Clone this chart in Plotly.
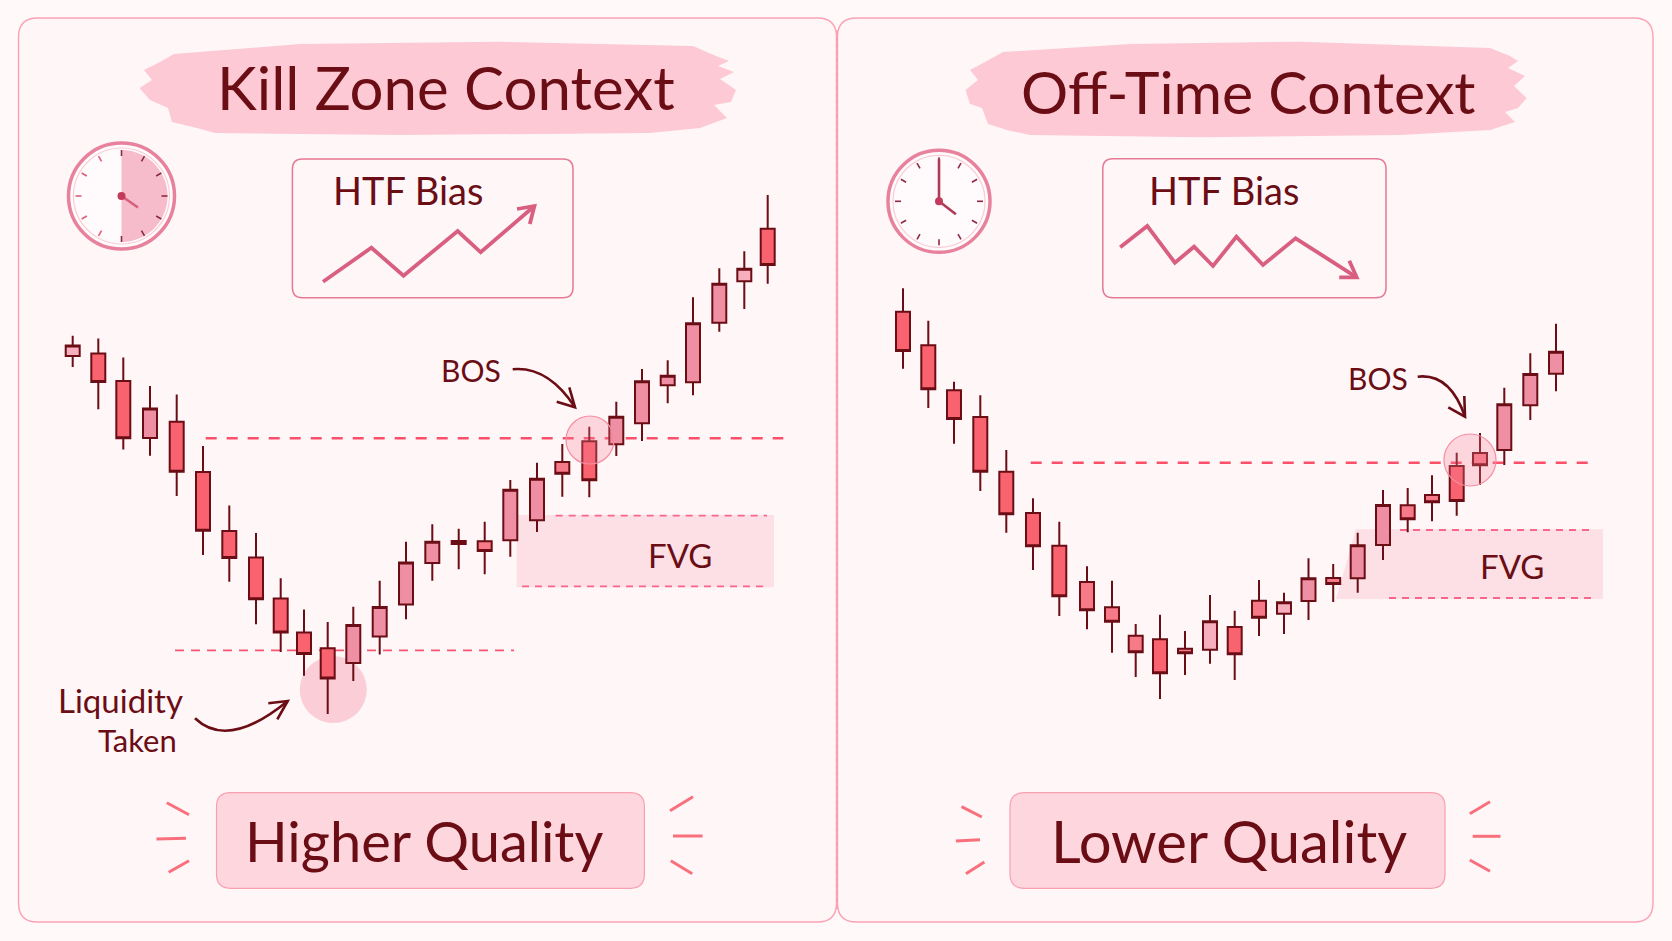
import numpy as np
import plotly.graph_objects as go

W, H = 1672, 941
INK = "#6b0d14"
RED, ROSE, PINK, PALE = "#f9626f", "#f77a88", "#ee8fa3", "#f7aebd"
TONES = {"r": RED, "o": ROSE, "p": PINK, "l": PALE}

# ---------- left panel candles ----------
L_time = [72.7, 98.3, 123.3, 150, 176.7, 203, 229.3, 256, 280.7, 304, 327.7, 353.3, 379.7, 406,
          432.3, 458.7, 484.7, 510.3, 537, 562.3, 589.3, 616.3, 642, 667.7, 693, 719.3, 744.3, 767.7]
L_high = [605.3, 602.4, 583.5, 554.9, 546.4, 494.9, 435.6, 408.1, 362.8, 331.4, 318.9, 334.2, 360.3, 399.2,
          416.7, 412.3, 419.3, 461, 478.3, 497, 514.3, 539.3, 572, 580.7, 643.7, 672.7, 689.7, 746]
L_top = [595.6, 587.4, 559.9, 532.4, 519.2, 468.9, 409.9, 383.5, 342.4, 308.5, 292.8, 316, 333.9, 378.5,
         399.2, 400, 399.7, 451.3, 462.3, 479, 499.7, 524.3, 559.7, 565.3, 617.7, 657.3, 672.3, 712.3]
L_bot = [584.9, 558.9, 502.8, 503.1, 469.2, 410.3, 383.1, 341.7, 308.5, 287.1, 262.4, 278.1, 304.6, 336.4,
         378.1, 397, 390, 400.7, 420.7, 467.3, 460.7, 496.7, 517.7, 555.7, 558.7, 618.3, 659.7, 676]
L_low = [573.9, 531.7, 491.4, 485.3, 444.9, 386, 359.2, 316.7, 288.9, 265.3, 227.1, 259.9, 286.4, 321.7,
         360.3, 371.7, 366.7, 384.3, 409, 444.3, 443.7, 485, 500, 537.7, 545.7, 609.3, 632, 657.3]
L_tone = ["l", "r", "r", "p", "r", "r", "r", "r", "r", "r", "r", "p", "p", "p",
          "p", "r", "o", "p", "p", "o", "r", "p", "p", "p", "p", "p", "l", "r"]

# ---------- right panel candles ----------
R_time = [903, 928.3, 954, 980.3, 1006.3, 1033, 1059.3, 1087, 1112, 1135.7, 1160, 1185, 1210, 1234.7,
          1259, 1284, 1308.5, 1333.2, 1357.7, 1383, 1407.7, 1432, 1456.7, 1480, 1504.3, 1530.3, 1556]
R_high = [652.7, 620.3, 559.3, 545.7, 491, 442.7, 419.3, 374.7, 360.3, 317, 326.3, 310, 346, 330.3,
          361, 348.3, 382.7, 377, 408.3, 451, 453, 465.7, 488.3, 508, 553.3, 587.7, 617.3]
R_top = [629.3, 595.7, 550.7, 524, 469.3, 428, 395.3, 359, 333.7, 305.3, 301.7, 292.3, 319.7, 314,
         340.3, 338.7, 362.7, 363, 395.7, 436, 435.7, 446, 475, 488, 536.7, 567, 589.3]
R_bot = [590, 551.7, 522, 469.3, 426.7, 394.7, 344.7, 330.7, 319.3, 288.7, 267.7, 287.7, 291.3, 286.7,
         323.3, 327.3, 340, 357, 362.7, 396, 421.7, 438.7, 440, 475.7, 491, 535.7, 567.3]
R_low = [572.3, 533, 497.3, 450, 408.3, 371, 325, 311.7, 288.3, 264, 242, 266, 277.3, 261,
         305, 307, 321, 339, 348.3, 381, 408.7, 419.7, 425.3, 456, 476, 521, 549.7]
R_tone = ["r", "r", "r", "r", "r", "r", "r", "o", "o", "o", "r", "o", "l", "r",
          "o", "l", "p", "o", "p", "p", "o", "o", "r", "o", "p", "p", "p"]

# ---------- labels ----------
TITLES = ["Kill Zone Context", "Off-Time Context"]
BIAS = "HTF Bias"
BOS = "BOS"
FVG = "FVG"
LIQ = ["Liquidity", "Taken"]
VERDICTS = ["Higher Quality", "Lower Quality"]

# ---------- hand-drawn bias lines and the drawing's furniture ----------
BIAS_UP_X = [323, 371.4, 403.5, 457.7, 480.7, 534.4]
BIAS_UP_Y = [281.7, 247.7, 275.7, 231, 252.3, 206]
BIAS_DN_X = [1120.2, 1147.3, 1174.9, 1194.1, 1213, 1236.4, 1263, 1295.6, 1356.7]
BIAS_DN_Y = [247.3, 226, 262.7, 246.7, 266, 236.7, 265, 238.3, 277.3]
BRUSH_L = [(174, 54), (300, 44), (500, 41.7), (693, 46), (716, 56), (729, 61), (718, 66), (734, 72), (720, 79),
           (736, 90), (731, 102), (714, 105), (727, 118), (700, 128), (650, 133), (400, 135), (215, 133),
           (197, 128), (172, 122), (168, 108), (150, 100), (139.5, 88), (152, 80), (144, 70), (160, 62)]
BRUSH_R = [(1003, 52), (1130, 44), (1300, 41.7), (1490, 48), (1510, 56), (1518, 61), (1508, 68), (1525, 76),
           (1514, 86), (1526.6, 98), (1518, 108), (1505, 112), (1515, 122), (1490, 130), (1400, 135),
           (1200, 137.3), (1030, 135), (1007, 130), (988, 124), (982, 108), (970, 104), (965.5, 90), (978, 80),
           (970, 70), (985, 62)]
RAYS = [((166.8, 802.7), (189, 814.7)), ((156.5, 839), (186, 838.3)), ((168.7, 872.3), (189, 860.7)),
        ((670, 810.7), (693, 796.7)), ((673, 836), (702.6, 836)), ((670.8, 860.7), (692.2, 873.7)),
        ((961.5, 806.7), (981.8, 817)), ((955.9, 841), (980, 839.7)), ((965.9, 873.7), (984.4, 862)),
        ((1469.8, 813.7), (1490, 801.7)), ((1472.7, 836.3), (1500.5, 836.3)), ((1469.8, 860), (1490, 871.3))]


def fy(v):
    return H - v


def poly(pts, close=True):
    s = "M" + " L".join(f"{x:.1f},{fy(y):.1f}" for x, y in pts)
    return s + (" Z" if close else "")


def rrect(x0, y0, x1, y1, r):
    y0f, y1f = fy(y0), fy(y1)
    return (f"M{x0+r},{y0f} L{x1-r},{y0f} Q{x1},{y0f} {x1},{y0f-r} L{x1},{y1f+r} Q{x1},{y1f} {x1-r},{y1f} "
            f"L{x0+r},{y1f} Q{x0},{y1f} {x0},{y1f+r} L{x0},{y0f-r} Q{x0},{y0f} {x0+r},{y0f} Z")


shapes = []


def add(path=None, fill=None, color=None, width=0, dash=None, layer="below"):
    shapes.append(dict(type="path", path=path, xref="x", yref="y", fillcolor=fill or "rgba(0,0,0,0)",
                       line=dict(color=color or "rgba(0,0,0,0)", width=width, dash=dash or "solid"), layer=layer))


def seg(x0, y0, x1, y1, color, width, dash="solid", layer="below"):
    shapes.append(dict(type="line", x0=x0, x1=x1, y0=fy(y0), y1=fy(y1), xref="x", yref="y",
                       line=dict(color=color, width=width, dash=dash), layer=layer))


def circle(cx, cy, r, fill, color=None, width=0, layer="below"):
    shapes.append(dict(type="circle", x0=cx - r, x1=cx + r, y0=fy(cy) - r, y1=fy(cy) + r, xref="x", yref="y",
                       fillcolor=fill, line=dict(color=color or "rgba(0,0,0,0)", width=width), layer=layer))


# panels
add(rrect(18.5, 18, 836.5, 922, 19), "#fff6f8", "#fba3b3", 1.4)
add(rrect(837.5, 18, 1653, 922, 19), "#fff6f8", "#fba3b3", 1.4)
seg(837, 30, 837, 910, "#f79aaa", 1.2, "4px,3px")

# brush strokes behind titles
add(poly(BRUSH_L), "#fdc9d4")
add(poly(BRUSH_R), "#fdc9d4")


def clock(cx, cy, r, half, hx, hy, mtop, ring):
    circle(cx, cy, r, "#fffafb", "#e8829c", ring)
    circle(cx, cy, r - 5, "rgba(0,0,0,0)", "#f9cdd7", 1.2)
    if half:
        th = np.linspace(-np.pi / 2, np.pi / 2, 40)
        pts = [(cx, cy)] + [(cx + (r - 7) * np.cos(t), cy + (r - 7) * np.sin(t)) for t in th]
        add(poly(pts), "#f6bccb")
    for k in range(12):
        a = k * np.pi / 6
        dark = not half or (0 <= k <= 6)
        col = "#8c2b42" if dark else "#dd5f7f"
        seg(cx + (r - 13) * np.sin(a), cy - (r - 13) * np.cos(a), cx + (r - 7) * np.sin(a), cy - (r - 7) * np.cos(a), col, 1.6)
    seg(cx, cy, hx, hy, "#d8607c" if half else "#b23a58", 2.6)
    if mtop is not None:
        seg(cx, cy, cx, mtop, "#b23a58", 2.6)
    circle(cx, cy, 4, "#c23a5c")


clock(121.5, 196, 53, True, 138, 207.5, None, 3.5)
clock(939, 201.3, 51, False, 955.9, 214.3, 159, 3.5)

# bias boxes
add(rrect(292.4, 159, 573, 297.7, 10), "rgba(0,0,0,0)", "#e57a94", 1.5)
add(rrect(1102.8, 158.7, 1386, 297.7, 10), "rgba(0,0,0,0)", "#e57a94", 1.5)
BIAS_C = "#d95f80"
add(poly(list(zip(BIAS_UP_X, BIAS_UP_Y)), False), color=BIAS_C, width=3.8)
add(poly([(517, 209), (534.4, 206), (529.8, 224)], False), color=BIAS_C, width=3.8)
add(poly(list(zip(BIAS_DN_X, BIAS_DN_Y)), False), color=BIAS_C, width=3.8)
add(poly([(1349.3, 260.7), (1356.7, 277.3), (1339.2, 277.3)], False), color=BIAS_C, width=3.8)

# FVG zones
add(poly([(516.7, 515), (774, 515), (774, 587.3), (516.7, 587.3)]), "#fddfe6")
add(poly([(1356, 529.3), (1603, 529.3), (1603, 599), (1336, 599)]), "#fddfe6")
seg(555.7, 515.7, 767, 515.7, "#f9668a", 1.8, "7px,6px")
seg(522, 586.3, 767, 586.3, "#f9668a", 1.8, "7px,6px")
seg(1400, 530, 1595, 530, "#f9668a", 1.8, "7px,6px")
seg(1389, 598, 1595, 598, "#f9668a", 1.8, "7px,6px")

# structure levels
seg(205.7, 438.3, 783.3, 438.3, "#fb4f6a", 2.4, "11px,10px")
seg(175, 650.4, 514, 650.4, "#f9566f", 1.8, "9px,7px")
seg(1030.7, 462.7, 1587.7, 462.7, "#fb4f6a", 2.4, "11px,10px")

# sweep and break-of-structure markers
circle(333.3, 689.6, 33.5, "#fbcdd7")
circle(590, 440, 24, "rgba(248,130,150,0.28)", "#f58ea0", 1.2, "above")
circle(1470, 460, 26, "rgba(248,130,150,0.28)", "#f58ea0", 1.2, "above")


# hand-drawn arrows
def curve(x0, y0, cx, cy, x1, y1, head):
    add(f"M{x0},{fy(y0)} Q{cx},{fy(cy)} {x1},{fy(y1)}", color=INK, width=2.6, layer="above")
    add(poly([head[0], (x1, y1), head[1]], False), color=INK, width=2.6, layer="above")


curve(512.7, 369.3, 548, 366, 575, 407.3, [(569.3, 387.3), (556.7, 401.7)])
curve(1417.7, 376.7, 1450, 373, 1465, 416.7, [(1464.3, 396), (1448.3, 407.3)])
curve(195, 718.3, 228, 750, 287.7, 701, [(268.3, 703.3), (277.3, 719.3)])

# verdict plates
add(rrect(216.5, 792.7, 644.4, 888.3, 14), "#fdd6de", "#f9a0b0", 1.2)
add(rrect(1010, 792.7, 1445, 888.3, 14), "#fdd6de", "#f9a0b0", 1.2)
for a, b in RAYS:
    seg(a[0], a[1], b[0], b[1], "#f9707c", 3)

fig = go.Figure()


def candles(t, hi, top, bot, lo, tone):
    for key, col in TONES.items():
        idx = [i for i, c in enumerate(tone) if c == key]
        if not idx:
            continue
        down = key in ("r", "o")
        o = [(top if down else bot)[i] for i in idx]
        c = [(bot if down else top)[i] for i in idx]
        style = dict(line=dict(color=INK, width=2), fillcolor=col)
        fig.add_trace(go.Candlestick(x=[t[i] for i in idx], open=o, high=[hi[i] for i in idx],
                                     low=[lo[i] for i in idx], close=c, increasing=style, decreasing=style,
                                     whiskerwidth=0, showlegend=False, hoverinfo="skip"))


candles(L_time, L_high, L_top, L_bot, L_low, L_tone)
candles(R_time, R_high, R_top, R_bot, R_low, R_tone)

FONT = "Lato, sans-serif"


def label(text, x, y, size):
    return dict(text=text, x=x, y=fy(y), xref="x", yref="y", showarrow=False, xanchor="center", yanchor="middle",
                font=dict(family=FONT, size=size, color=INK))


annotations = [
    label(TITLES[0], 446, 87, 60),
    label(TITLES[1], 1248, 91, 59),
    label(BIAS, 408, 190, 38),
    label(BIAS, 1224, 190, 38),
    label(BOS, 471, 370, 30),
    label(BOS, 1378, 378, 30),
    label(FVG, 680, 555, 33),
    label(FVG, 1512, 566, 33),
    label(LIQ[0], 120, 700, 33),
    label(LIQ[1], 137, 740, 31),
    label(VERDICTS[0], 424, 840, 56),
    label(VERDICTS[1], 1229, 840, 58),
]

fig.update_layout(
    width=W, height=H, margin=dict(l=0, r=0, t=0, b=0),
    paper_bgcolor="#fff9fa", plot_bgcolor="#fff9fa",
    boxgap=0.4, boxgroupgap=0, boxmode="overlay",
    xaxis=dict(range=[0, W], visible=False, rangeslider=dict(visible=False), fixedrange=True),
    yaxis=dict(range=[0, H], visible=False, fixedrange=True),
    shapes=shapes, annotations=annotations, showlegend=False,
)
fig.write_html("out.html", config=dict(displayModeBar=False), post_script="document.body.style.margin='0';")
